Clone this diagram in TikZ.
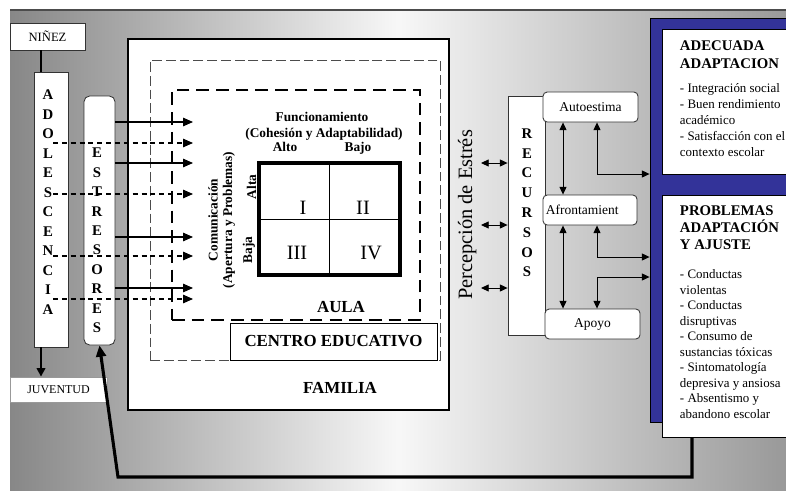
\documentclass[tikz,border=0pt]{standalone}
\usepackage{fontspec}
\setmainfont{Liberation Serif}
\usepackage{xcolor}
\usepackage{tikz}
\usetikzlibrary{positioning, arrows.meta, fit}
\definecolor{outBlue}{HTML}{333399}
\definecolor{nInk}{HTML}{1A1A1A}
\tikzset{
  whitebox/.style={draw=black!80, fill=white, line width=0.6pt, inner sep=0pt},
  colletter/.style={font=\fontsize{10.5}{12}\selectfont\bfseries},
  smalltxt/.style={font=\fontsize{9.6}{11}\selectfont},
  headtxt/.style={font=\fontsize{10.5}{12}\selectfont\bfseries, anchor=base west},
  listtxt/.style={font=\fontsize{9.2}{11}\selectfont, anchor=base west},
  gridtxt/.style={font=\fontsize{9.5}{11}\selectfont\bfseries, anchor=base},
  numtxt/.style={font=\fontsize{14.5}{16}\selectfont},
  zonetxt/.style={font=\fontsize{12}{14}\selectfont\bfseries},
  inarrow/.style={-{Triangle[length=7pt,width=6pt]}, line width=0.8pt},
  dasharrow/.style={inarrow, dash pattern=on 3.5pt off 2.8pt},
  resarrow/.style={{Triangle[length=5.5pt,width=5pt]}-{Triangle[length=5.5pt,width=5pt]}, line width=0.7pt},
  fbline/.style={-{Triangle[length=8pt,width=7pt]}, line width=2.2pt},
}
\begin{document}
\begin{tikzpicture}[x=0.025cm, y=-0.025cm]
  \useasboundingbox (0,0) rectangle (786,493);
  % background
  \fill[left color=black!47, right color=black!40, middle color=black!3] (10,10) rectangle (786,490);
  \draw[black!70, line width=0.8pt] (10,10) -- (786,10);

  % life stages
  \coordinate (lx) at (41,0);
  \node[whitebox, minimum width=1.875cm, minimum height=0.675cm, font=\fontsize{9}{10}\selectfont] (ninez) at (47.5,36.5) {NIÑEZ};
  \node[whitebox, draw=black!40, minimum width=2.425cm, minimum height=0.625cm, font=\fontsize{8.5}{10}\selectfont] (juventud) at (58.5,389.5) {JUVENTUD};
  \node[whitebox, fit={(34,72) (68,347)}] (adol) {};
  \foreach \l [count=\i from 0] in {A,D,O,L,E,S,C,E,N,C,I,A}
    \node[colletter] (adol\i) at (48,{95+19.5*\i}) {\l};
  \draw[line width=1.8pt] (ninez.south -| lx) -- (adol.north -| lx);
  \draw[line width=1.8pt, -{Triangle[length=6pt,width=6pt]}] (adol.south -| lx) -- (juventud.north -| lx);

  \node[whitebox, rounded corners=4pt, fit={(84,96) (115,345)}] (estr) {};
  \foreach \l [count=\i from 0] in {E,S,T,R,E,S,O,R,E,S}
    \node[colletter] (estr\i) at (97,{153+19.4*\i}) {\l};

  % contexts
  \node[whitebox, draw=black, line width=2pt, fit={(128,39) (449,410)}] (familia) {};
  \node[draw=black!70, dash pattern=on 7pt off 2.8pt, line width=0.6pt, inner sep=0pt, fit={(150,60) (440,360)}] (centro) {};
  \node[draw=black, line width=1.3pt, dash pattern=on 9pt off 5pt, inner sep=0pt, fit={(172,90) (420,320)}] (aula) {};
  \node[whitebox, draw=black, minimum width=5.175cm, minimum height=0.925cm, zonetxt] (centroedu) at (333.5,341.5) {CENTRO EDUCATIVO};
  \node[zonetxt] (aulaT) at (341,307) {AULA};
  \node[zonetxt] (familiaT) at (340,388) {FAMILIA};

  % stressors into the classroom
  \coordinate (tipx) at (193,0);
  \coordinate (dstart) at (53,0);
  \foreach \y in {122,163,237,288}
    \draw[inarrow] (estr.east |- 0,\y) -- (tipx |- 0,\y);
  \foreach \y in {143,194,256,299}
    \draw[dasharrow] (dstart |- 0,\y) -- (tipx |- 0,\y);

  % family functioning grid
  \node[draw=black, line width=2.8pt, fill=white, inner sep=0pt, fit={(259,163) (400,275)}] (matriz) {};
  \draw[line width=0.5pt] (matriz.north) -- (matriz.south);
  \draw[line width=0.5pt] (matriz.west) -- (matriz.east);
  \foreach \t/\x/\y [count=\i] in {I/303/208, II/363/208, III/297/253, IV/371/253}
    \node[numtxt] (q\i) at (\x,\y) {\t};
  \node[gridtxt] (funcT) at (322,121.5) {Funcionamiento};
  \node[gridtxt] (cohT) at (324,137) {(Cohesión y Adaptabilidad)};
  \node[gridtxt] (altoT) at (285,151) {Alto};
  \node[gridtxt] (bajoT) at (358,151) {Bajo};
  \node[gridtxt, rotate=90] (comT) at (217.5,220) {Comunicación};
  \node[gridtxt, rotate=90] (apeT) at (232,220) {(Apertura y Problemas)};
  \node[gridtxt, rotate=90] (bajaT) at (252,250) {Baja};
  \node[gridtxt, rotate=90] (altaT) at (256,187) {Alta};

  % stress and resources
  \node[rotate=90, anchor=base, font=\fontsize{14.5}{16}\selectfont] (percep) at (472,215) {Percepción de Estrés};
  \node[whitebox, fit={(508,96) (545,335)}] (recursos) {};
  \foreach \l [count=\i from 0] in {R,E,C,U,R,S,O,S}
    \node[colletter] (rec\i) at (527,{133.5+19.8*\i}) {\l};
  \coordinate (pex) at (481,0);
  \foreach \y in {163,225,288}
    \draw[resarrow] (pex |- 0,\y) -- (recursos.west |- 0,\y);

  \node[whitebox, rounded corners=3pt, minimum width=2.375cm, minimum height=0.75cm, smalltxt] (autoestima) at (590.5,107) {Autoestima};
  \node[whitebox, rounded corners=3pt, minimum width=2.35cm, minimum height=0.75cm, smalltxt] (afront) at (590,210) {Afrontamient\hspace*{11pt}};
  \node[whitebox, rounded corners=3pt, minimum width=2.375cm, minimum height=0.75cm, smalltxt] (apoyo) at (592.5,324) {Apoyo};

  % outcomes
  \node[draw=black, fill=outBlue, line width=0.6pt, inner sep=0pt, fit={(650,18) (790,422)}] (bluebox) {};
  \node[whitebox, draw=black, fit={(662,29) (790,174)}] (adecuada) {};
  \node[whitebox, draw=black, fit={(662,195) (790,437)}] (problemas) {};
  \node[headtxt] (adecH1) at (675,50) {ADECUADA};
  \node[headtxt] (adecH2) at (675,68) {ADAPTACION};
  \foreach \t [count=\i from 0] in {- Integración social, - Buen rendimiento, académico, - Satisfacción con el, contexto escolar}
    \node[listtxt] (adecL\i) at (675,{92.5+16*\i}) {\t};
  \node[headtxt] (probH1) at (675,215) {PROBLEMAS};
  \node[headtxt] (probH2) at (675,232) {ADAPTACIÓN};
  \node[headtxt] (probH3) at (675,249) {Y AJUSTE};
  \foreach \t [count=\i from 0] in {- Conductas, violentas, - Conductas, disruptivas, - Consumo de, sustancias tóxicas, - Sintomatología, depresiva y ansiosa, - Absentismo y, abandono escolar}
    \node[listtxt] (probL\i) at (675,{278.5+15.5*\i}) {\t};

  \coordinate (ax) at (563,0);
  \coordinate (bx) at (597,0);
  \draw[resarrow] (autoestima.south -| ax) -- (afront.north -| ax);
  \draw[resarrow] (afront.south -| ax) -- (apoyo.north -| ax);
  \draw[resarrow] (autoestima.south -| bx) |- (bluebox.west |- 0,174);
  \draw[resarrow] (afront.south -| bx) |- (bluebox.west |- 0,257);
  \draw[resarrow] (apoyo.north -| bx) |- (bluebox.west |- 0,277);

  % feedback to stressors
  \coordinate (fbx) at (692,0);
  \coordinate (fbc) at (118,477);
  \draw[fbline] (problemas.south -| fbx) |- (fbc) -- (estr.south);
\end{tikzpicture}
\end{document}
